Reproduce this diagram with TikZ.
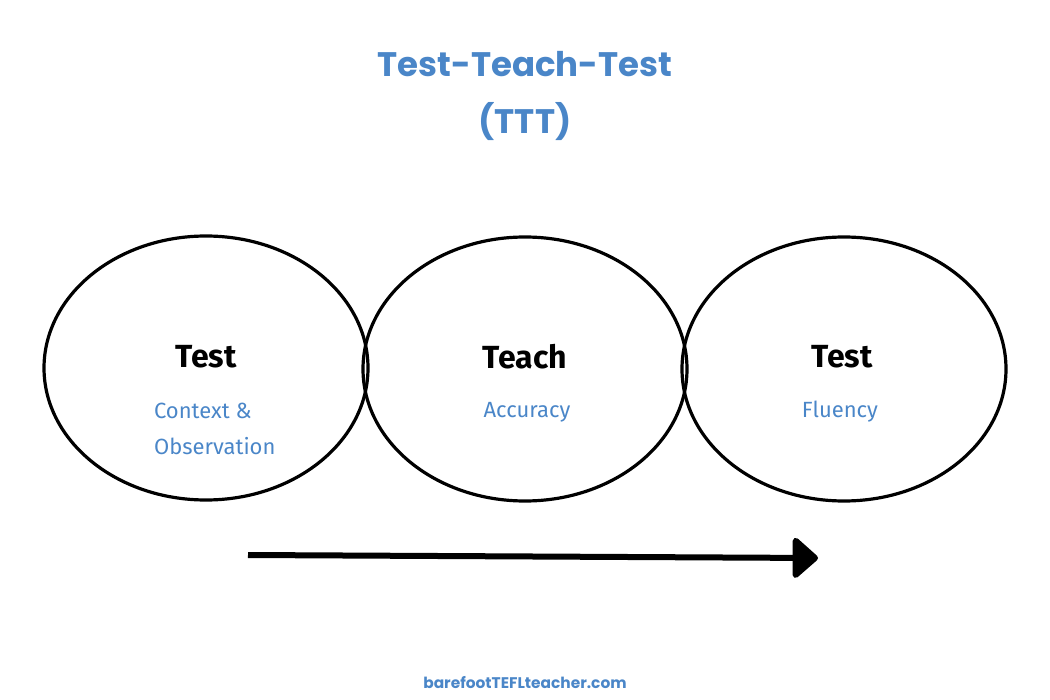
\documentclass[tikz,border=0pt]{standalone}
\usepackage{fontspec}
\setmainfont{Poppins}
\newfontfamily\handfont{Fira Sans}
\usetikzlibrary{arrows.meta,shapes.geometric}
\definecolor{tttblue}{RGB}{74,134,200}

\begin{document}
\begin{tikzpicture}[x=0.5pt,y=-0.5pt]
\tikzset{
% ellipses for the three stages, and the two kinds of label
stage node/.style={ellipse,draw,line width=1.6pt,minimum width=162pt,minimum height=132pt,inner sep=0},
head node/.style={font=\handfont\fontsize{16}{18}\selectfont\bfseries,text=black},
sub node/.style={font=\handfont\fontsize{11}{18}\selectfont,text=tttblue,align=left}
}
\useasboundingbox (0,0) rectangle (1050,700);

% Title
\node(title)[font=\fontsize{17}{28.5}\selectfont\bfseries,text=tttblue,align=center] at (525,96) {Test-Teach-Test\\(TTT)};

% The stages
\node(1)[stage node] at (206,368) {};
\node(2)[stage node] at (525,369) {};
\node(3)[stage node] at (844,369) {};

\node(1h)[head node] at (206,357) {Test};
\node(2h)[head node] at (525,357) {Teach};
\node(3h)[head node] at (842,357) {Test};

\node(1s)[sub node,anchor=north west] at (147,396) {Context \&\\Observation};
\node(2s)[sub node] at (527,412) {Accuracy};
\node(3s)[sub node] at (840,412) {Fluency};

% arrow underneath
\coordinate(a) at (248,555);
\coordinate(b) at (818,558);
\draw[line width=3pt,-{Triangle[length=13.5pt,width=23pt,round]}] (a) -- (b);

% footer
\node(web)[font=\fontsize{7.7}{10}\selectfont\bfseries,text=tttblue] at (525,683) {barefootTEFLteacher.com};
\end{tikzpicture}
\end{document}
